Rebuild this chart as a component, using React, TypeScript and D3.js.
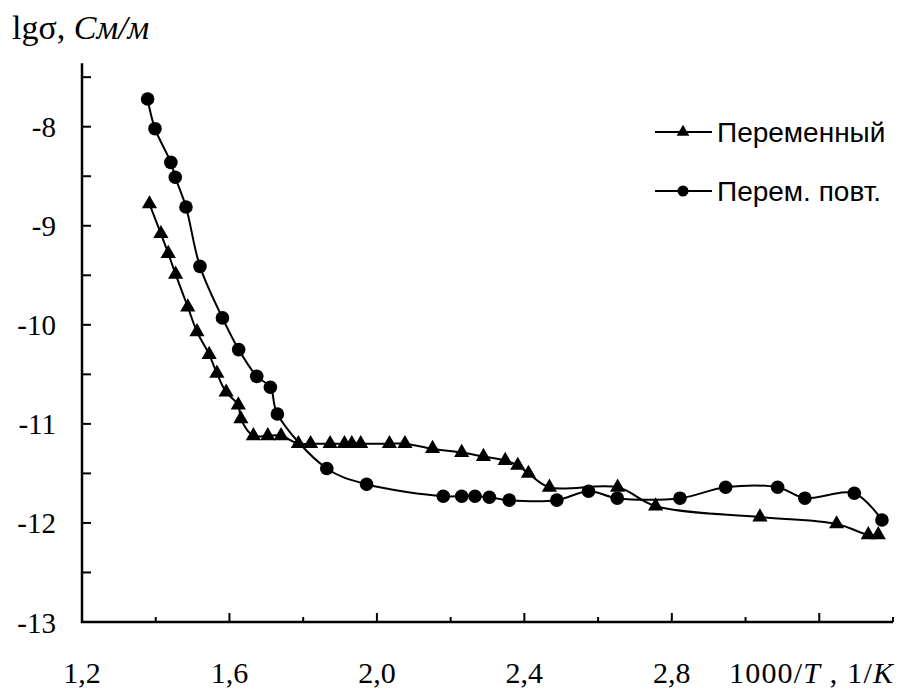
import React from 'react';
import * as d3 from 'd3';

// 1000/T, 1/K  and  lg(sigma), S/m
const varX = [1.383, 1.414, 1.434, 1.454, 1.487, 1.512, 1.545, 1.566, 1.591, 1.624, 1.631, 1.665, 1.704, 1.740,
  1.787, 1.820, 1.873, 1.912, 1.932, 1.956, 2.034, 2.076, 2.151, 2.230, 2.289, 2.348, 2.382, 2.411, 2.468, 2.653,
  2.756, 3.039, 3.247, 3.333, 3.360];
const varY = [-8.78, -9.08, -9.28, -9.49, -9.82, -10.07, -10.30, -10.49, -10.68, -10.81, -10.95, -11.12, -11.12, -11.12,
  -11.20, -11.20, -11.20, -11.20, -11.20, -11.20, -11.20, -11.20, -11.25, -11.29, -11.33, -11.37, -11.42, -11.50, -11.64, -11.64,
  -11.83, -11.94, -12.01, -12.12, -12.12];

const repX = [1.378, 1.398, 1.441, 1.453, 1.482, 1.520, 1.581, 1.625, 1.674, 1.711, 1.730, 1.864, 1.972, 2.180,
  2.230, 2.266, 2.305, 2.359, 2.488, 2.574, 2.652, 2.822, 2.946, 3.087, 3.161, 3.295, 3.370];
const repY = [-7.72, -8.02, -8.36, -8.51, -8.81, -9.41, -9.93, -10.25, -10.52, -10.63, -10.90, -11.45, -11.61, -11.73,
  -11.73, -11.73, -11.74, -11.77, -11.77, -11.68, -11.75, -11.75, -11.64, -11.64, -11.75, -11.70, -11.97];

const seriesNames = ['Переменный', 'Перем. повт.'];
const yTickLabels = [-8, -9, -10, -11, -12, -13];
const xTickLabels = [1.2, 1.6, 2.0, 2.4, 2.8];

const W = 905;
const H = 690;
const serif = '"Liberation Serif", "Times New Roman", serif';
const sans = '"Liberation Sans", Arial, sans-serif';

export default function App() {
  const x = d3.scaleLinear().domain([1.2, 3.4]).range([82, 893]);
  const y = d3.scaleLinear().domain([-13, -8]).range([622, 126.7]);
  const yTop = -7.36;

  const line = d3.line<[number, number]>()
    .x(d => x(d[0]))
    .y(d => y(d[1]))
    .curve(d3.curveCatmullRom.alpha(0.5));

  const varPts = varX.map((v, i) => [v, varY[i]] as [number, number]);
  const repPts = repX.map((v, i) => [v, repY[i]] as [number, number]);
  const tri = d3.symbol(d3.symbolTriangle, 100)()!;

  const yTicks = d3.range(-13, -7.4, 0.5);
  const xTicks = d3.range(0, 12).map(i => 1.2 + i * 0.2);

  return (
    <svg width={W} height={H} style={{ position: 'absolute', left: 0, top: 0, background: '#fff' }}>
      <rect width={W} height={H} fill="#fff" />

      {/* title */}
      <text x={12} y={39} fontFamily={serif} fontSize={34}>
        lgσ, <tspan fontStyle="italic">См/м</tspan>
      </text>

      {/* axes */}
      <g stroke="#000" strokeWidth={2.5} fill="none">
        <line x1={x(1.2)} x2={x(1.2)} y1={y(yTop)} y2={y(-13) + 1} />
        <line x1={x(1.2) - 1} x2={x(3.4)} y1={y(-13)} y2={y(-13)} />
        {yTicks.map(t => (
          <line key={t} x1={x(1.2)} x2={x(1.2) + 9} y1={y(t)} y2={y(t)} strokeWidth={2} />
        ))}
        {xTicks.map((t, i) => (
          <line key={i} x1={x(t)} x2={x(t)} y1={y(-13)} y2={y(-13) - (i % 2 === 0 && i < 11 ? 9 : 5)} strokeWidth={2} />
        ))}
      </g>

      {yTickLabels.map(t => (
        <text key={t} x={56} y={y(t) + 10.5} textAnchor="end" fontFamily={serif} fontSize={29}>{t}</text>
      ))}
      {xTickLabels.map(t => (
        <text key={t} x={x(t)} y={y(-13) + 61} textAnchor="middle"
          fontFamily={serif} fontSize={30}>{d3.format('.1f')(t).replace('.', ',')}</text>
      ))}
      <text x={729} y={y(-13) + 61} textLength={164} lengthAdjust="spacing" fontFamily={serif} fontSize={30}>
        1000/<tspan fontStyle="italic">T</tspan> , 1/<tspan fontStyle="italic">K</tspan>
      </text>

      {/* series */}
      <path d={line(varPts)!} fill="none" stroke="#000" strokeWidth={2} />
      <path d={line(repPts)!} fill="none" stroke="#000" strokeWidth={2} />
      {varPts.map((p, i) => (
        <path key={i} d={tri} transform={`translate(${x(p[0])},${y(p[1])})`} fill="#000" />
      ))}
      {repPts.map((p, i) => (
        <circle key={i} cx={x(p[0])} cy={y(p[1])} r={6.8} fill="#000" />
      ))}

      {/* legend */}
      {seriesNames.map((name, i) => {
        const ly = 132 + i * 59;
        return (
          <g key={name}>
            <line x1={655} x2={712} y1={ly} y2={ly} stroke="#000" strokeWidth={2} />
            {i === 0
              ? <path d={d3.symbol(d3.symbolTriangle, 70)()!} transform={`translate(683,${ly})`} fill="#000" />
              : <circle cx={683} cy={ly} r={5.5} fill="#000" />}
            <text x={717} y={ly + 10} fontFamily={sans} fontSize={28}>{name}</text>
          </g>
        );
      })}
    </svg>
  );
}
